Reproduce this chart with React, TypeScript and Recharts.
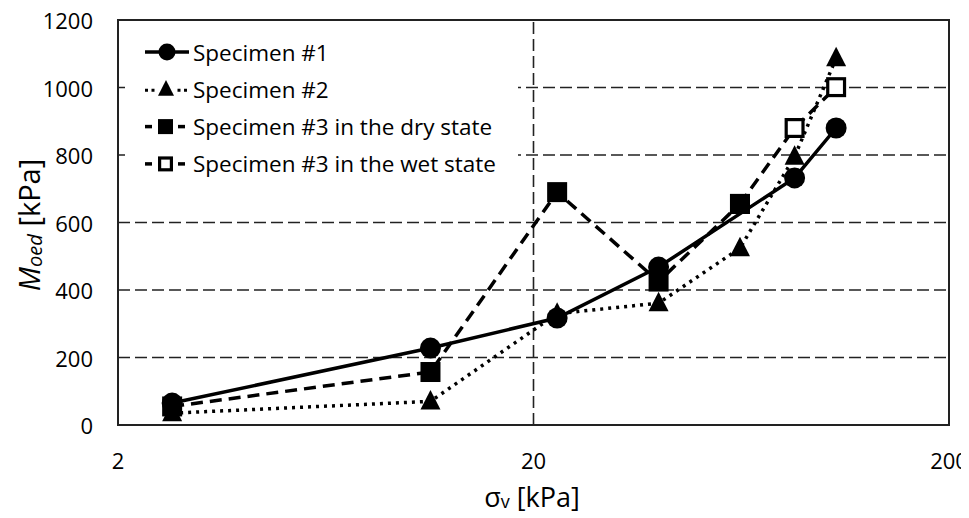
import React from "react";
import { LineChart, Line, XAxis, YAxis, ReferenceLine, ReferenceArea } from "recharts";

// vertical stress [kPa] and oedometric modulus [kPa]
const spec1Stress = [2.7, 11.3, 22.8, 40, 85, 107];
const spec1Moed = [65, 228, 317, 468, 732, 880];

const spec2Stress = [2.7, 11.3, 22.8, 40, 62.8, 85, 107];
const spec2Moed = [35, 70, 330, 361, 524, 795, 1087];

const dryStress = [2.7, 11.3, 22.8, 40, 62.8];
const dryMoed = [55, 157, 690, 425, 655];

const wetStress = [62.8, 85, 107];
const wetMoed = [655, 880, 1001];

const xTicks = [2, 20, 200];
const yTicks = [0, 200, 400, 600, 800, 1000, 1200];
const xGrid = [20];
const yGrid = [200, 400, 600, 800, 1000];

const FONT = "'Open Sans', sans-serif";
const W = 969;
const H = 518;

type MarkerKind = "circle" | "triangle" | "square" | "openSquare";

const zip = (xs: number[], ys: number[]) => xs.map((x, i) => ({ x, y: ys[i] }));

const series = [
  { name: "Specimen #3 in the wet state", data: zip(wetStress, wetMoed), marker: "openSquare" as MarkerKind, dash: "12 7" },
  { name: "Specimen #1", data: zip(spec1Stress, spec1Moed), marker: "circle" as MarkerKind, dash: undefined },
  { name: "Specimen #2", data: zip(spec2Stress, spec2Moed), marker: "triangle" as MarkerKind, dash: "3 5" },
  { name: "Specimen #3 in the dry state", data: zip(dryStress, dryMoed), marker: "square" as MarkerKind, dash: "12 7" },
];

const legendOrder = ["Specimen #1", "Specimen #2", "Specimen #3 in the dry state", "Specimen #3 in the wet state"];

function Marker({ kind, cx, cy, size }: { kind: MarkerKind; cx: number; cy: number; size: number }) {
  const h = size / 2;
  if (kind === "circle") return <circle cx={cx} cy={cy} r={h} fill="#000" />;
  if (kind === "triangle")
    return <polygon points={`${cx},${cy - h * 1.15} ${cx - h},${cy + h * 0.8} ${cx + h},${cy + h * 0.8}`} fill="#000" />;
  if (kind === "square") return <rect x={cx - h} y={cy - h} width={size} height={size} fill="#000" />;
  return <rect x={cx - h + 1.6} y={cy - h + 1.6} width={size - 3.2} height={size - 3.2} fill="#fff" stroke="#000" strokeWidth={3.2} />;
}

const XTick = (props: any) => (
  <text x={props.x} y={props.y + 35} textAnchor="middle" dominantBaseline="central" fontSize={22} fontFamily={FONT} fill="#000">
    {props.payload.value}
  </text>
);

const YTick = (props: any) => (
  <text x={props.x - 25} y={props.y} textAnchor="end" dominantBaseline="central" fontSize={22} fontFamily={FONT} fill="#000">
    {props.payload.value}
  </text>
);

function LegendIcon({ kind, y }: { kind: MarkerKind; y: number }) {
  if (kind === "circle")
    return (
      <>
        <line x1={145} x2={189} y1={y} y2={y} stroke="#000" strokeWidth={3.5} />
        <Marker kind={kind} cx={167} cy={y} size={17} />
      </>
    );
  if (kind === "triangle")
    return (
      <>
        <line x1={145} x2={189} y1={y + 1} y2={y + 1} stroke="#000" strokeWidth={3} strokeDasharray="3 3.5" />
        <rect x={157} y={y - 9} width={20} height={18} fill="#fff" />
        <Marker kind={kind} cx={166} cy={y} size={16} />
      </>
    );
  return (
    <>
      <line x1={145} x2={152} y1={y} y2={y} stroke="#000" strokeWidth={3.5} />
      <line x1={178} x2={185} y1={y} y2={y} stroke="#000" strokeWidth={3.5} />
      <Marker kind={kind} cx={165.5} cy={y} size={15} />
    </>
  );
}

function Overlay() {
  const rows = legendOrder.map((n) => series.find((s) => s.name === n)!);
  return (
    <svg width={W} height={H} style={{ position: "absolute", left: 0, top: 0, pointerEvents: "none" }}>
      <rect x={125} y={30} width={393} height={155} fill="#fff" />
      {rows.map((s, i) => {
        const y = 52 + i * 37.3;
        return (
          <g key={s.name}>
            <LegendIcon kind={s.marker} y={y} />
            <text x={193} y={y} dominantBaseline="central" fontSize={22.5} fontFamily={FONT} fill="#000">
              {s.name}
            </text>
          </g>
        );
      })}
      <text transform="translate(28,225) rotate(-90)" textAnchor="middle" dominantBaseline="central" fontSize={29} fontFamily={FONT} fill="#000">
        <tspan fontStyle="italic">M</tspan>
        <tspan fontStyle="italic" fontSize={20} dy={6}>oed</tspan>
        <tspan dy={-6}> [kPa]</tspan>
      </text>
      <text x={532} y={496} textAnchor="middle" dominantBaseline="central" fontSize={27} fontFamily={FONT} fill="#000">
        <tspan>σ</tspan>
        <tspan fontSize={18} dy={5}>v</tspan>
        <tspan dy={-5}> [kPa]</tspan>
      </text>
    </svg>
  );
}

export default function App() {
  return (
    <div style={{ position: "relative", width: W, height: H, margin: "-8px 0 0 -8px", background: "#fff", overflow: "hidden" }}>
      <LineChart width={W} height={H} margin={{ top: 20, right: 20, left: 0, bottom: 0 }}>
        <XAxis
          dataKey="x"
          type="number"
          scale="log"
          domain={[2, 200]}
          ticks={xTicks}
          allowDataOverflow
          height={93}
          tickSize={0}
          tickMargin={0}
          tickLine={false}
          axisLine={false}
          tick={<XTick />}
        />
        <YAxis
          dataKey="y"
          type="number"
          domain={[0, 1200]}
          ticks={yTicks}
          width={118}
          tickSize={0}
          tickMargin={0}
          tickLine={false}
          axisLine={false}
          tick={<YTick />}
        />
        {yGrid.map((v) => (
          <ReferenceLine key={`y${v}`} y={v} stroke="#222" strokeWidth={1.6} strokeDasharray="12 5" />
        ))}
        {xGrid.map((v) => (
          <ReferenceLine key={`x${v}`} x={v} stroke="#222" strokeWidth={1.6} strokeDasharray="12 5" />
        ))}
        <ReferenceArea x1={2} x2={200} y1={0} y2={1200} fill="none" stroke="#222" strokeWidth={2} ifOverflow="visible" />
        {series.map((s) => (
          <Line
            key={s.name}
            data={s.data}
            dataKey="y"
            name={s.name}
            type="linear"
            stroke="#000"
            strokeWidth={3.5}
            strokeDasharray={s.dash}
            isAnimationActive={false}
            dot={(p: any) => <Marker key={`${s.name}-${p.index}`} kind={s.marker} cx={p.cx} cy={p.cy} size={s.marker === "circle" ? 21 : 20} />}
            activeDot={false}
          />
        ))}
      </LineChart>
      <Overlay />
    </div>
  );
}
